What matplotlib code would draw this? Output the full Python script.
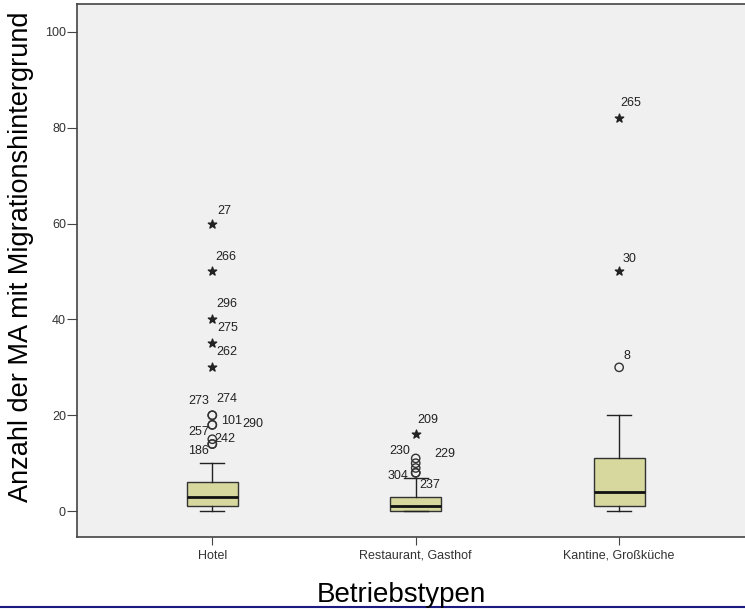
import matplotlib
matplotlib.use("Agg")
import matplotlib.pyplot as plt
from matplotlib.lines import Line2D

plt.rcParams['font.family'] = ['Liberation Sans', 'DejaVu Sans']

categories = ["Hotel", "Restaurant, Gasthof", "Kantine, Großküche"]
whisker_low = [0, 0, 0]
q1 = [1, 0, 1]
median = [3, 1, 4]
q3 = [6, 3, 11]
whisker_high = [10, 7, 20]

# outliers: (category index, value, case id)
circle_cat = [0, 0, 0, 0, 0, 0, 0, 1, 1, 1, 1, 1, 2]
circle_val = [20, 20, 18, 18, 15, 14, 14, 11, 10, 9, 8, 8, 30]
circle_id = ["273", "274", "101", "290", "257", "242", "186", "230", "229", "", "304", "237", "8"]

star_cat = [0, 0, 0, 0, 0, 1, 2, 2]
star_val = [60, 50, 40, 35, 30, 16, 82, 50]
star_id = ["27", "266", "296", "275", "262", "209", "265", "30"]

# label offsets (pixels) - styling only
circle_off = [(-14, 14), (15, 16), (19, 4), (41, 1), (-14, 7), (13, 5), (-14, -7),
              (-16, 7), (29, 9), (0, 0), (-18, -3), (14, -12), (8, 11)]
star_off = [(12, 13), (14, 14), (15, 15), (15, 15), (15, 15), (12, 14), (12, 15), (10, 12)]

fig = plt.figure(figsize=(7.45, 6.09), dpi=100)
fig.patch.set_facecolor("white")
ax = fig.add_axes([77 / 745, 0.1182, 1 - 77 / 745 + 0.002, 0.8752])
ax.set_facecolor("#f0f0f0")

positions = [1, 2, 3]
stats = []
for i in range(3):
    stats.append(dict(whislo=whisker_low[i], q1=q1[i], med=median[i], q3=q3[i],
                      whishi=whisker_high[i], fliers=[], label=categories[i]))
ax.bxp(stats, positions=positions, widths=0.25, patch_artist=True, showfliers=False,
       boxprops=dict(facecolor="#d6d89e", edgecolor="#333333", linewidth=1.0),
       medianprops=dict(color="#111111", linewidth=2.0),
       whiskerprops=dict(color="#222222", linewidth=1.0),
       capprops=dict(color="#222222", linewidth=1.0), capwidths=0.12)

cx = [positions[c] for c in circle_cat]
ax.scatter(cx, circle_val, s=36, facecolors="none", edgecolors="#333333", linewidths=1.0, zorder=5)
sx = [positions[c] for c in star_cat]
ax.scatter(sx, star_val, s=40, marker="*", color="#222222", zorder=5)

for x, v, lab, off in zip(cx, circle_val, circle_id, circle_off):
    if lab:
        ax.annotate(lab, (x, v), xytext=off, textcoords="offset pixels",
                    ha="center", va="center", fontsize=9, color="#222222")
for x, v, lab, off in zip(sx, star_val, star_id, star_off):
    ax.annotate(lab, (x, v), xytext=off, textcoords="offset pixels",
                ha="center", va="center", fontsize=9, color="#222222")

ax.set_xlim(0.335, 3.626)
ax.set_ylim(-5.4, 105.8)
ax.set_yticks([0, 20, 40, 60, 80, 100])
ax.set_xticks(positions)
ax.set_xticklabels(categories)
ax.tick_params(axis="y", labelsize=9, length=7, pad=1, color="#444444", labelcolor="#333333")
ax.tick_params(axis="x", labelsize=9, length=6, pad=3, color="#444444", labelcolor="#333333")
for name, s in ax.spines.items():
    s.set_color("#444444")
    s.set_linewidth(1.2)
ax.spines["right"].set_visible(False)

fig.text(0.028, 0.578, "Anzahl der MA mit Migrationshintergrund", rotation=90,
         ha="center", va="center", fontsize=19.5)
fig.text(0.539, 0.0115, "Betriebstypen", ha="center", va="baseline", fontsize=20)

fig.add_artist(Line2D([0, 1], [0.004, 0.004], transform=fig.transFigure, color="#1a1a80", linewidth=1.5))

fig.savefig("out.png", dpi=100)
